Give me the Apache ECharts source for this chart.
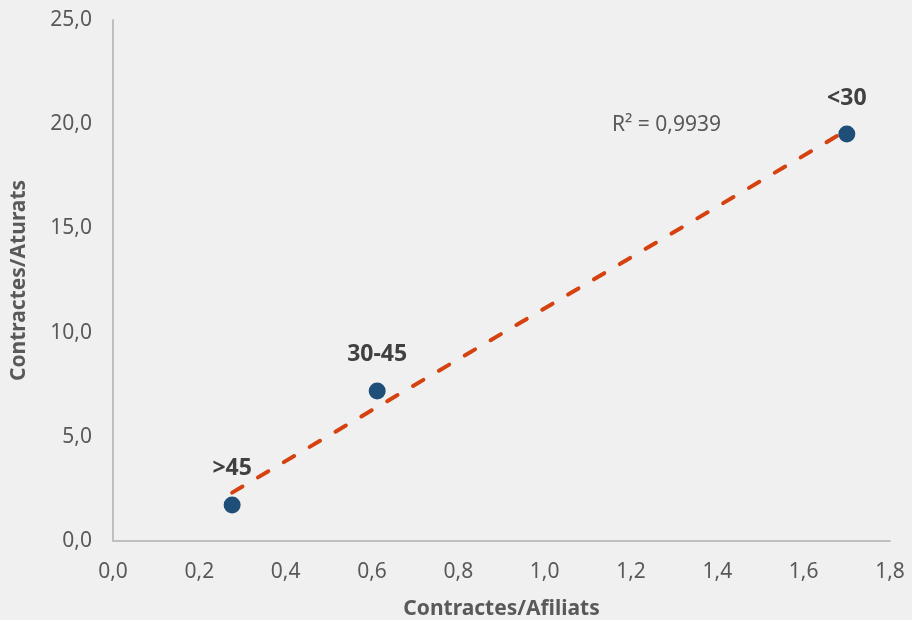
<!DOCTYPE html>
<html>
<head>
<meta charset="utf-8">
<script src="https://cdn.jsdelivr.net/npm/echarts@6/dist/echarts.min.js"></script>
<style>
  html, body { margin: 0; padding: 0; background: #f0f0f0; }
  #chart { width: 912px; height: 620px; }
</style>
</head>
<body>
<div id="chart"></div>
<script>
// grups d'edat
const groups = ['>45', '30-45', '<30'];
const contractesAfiliats = [0.276, 0.612, 1.70];
const contractesAturats = [1.73, 7.2, 19.53];
const r2Text = 'R² = 0,9939';

const xTicks = { min: 0, max: 1.8, interval: 0.2 };
const yTicks = { min: 0, max: 25, interval: 5 };

const fmt = v => v.toFixed(1).replace('.', ',');

// recta de regressió (tendència lineal)
const linearFit = (xs, ys) => {
    const n = xs.length;
    const mx = xs.reduce((a, b) => a + b, 0) / n;
    const my = ys.reduce((a, b) => a + b, 0) / n;
    let sxy = 0, sxx = 0;
    xs.forEach((x, i) => {
        sxy += (x - mx) * (ys[i] - my);
        sxx += (x - mx) * (x - mx);
    });
    const slope = sxy / sxx;
    return { slope, intercept: my - slope * mx };
};

const fit = linearFit(contractesAfiliats, contractesAturats);
const xLo = Math.min(...contractesAfiliats);
const xHi = Math.max(...contractesAfiliats);
const trend = [xLo, xHi].map(x => [x, fit.intercept + fit.slope * x]);

const font = '"Noto Sans", sans-serif';
const chart = echarts.init(document.getElementById('chart'));

chart.setOption({
    backgroundColor: '#f0f0f0',
    animation: false,
    textStyle: { fontFamily: font },
    grid: { left: 113, right: 22, top: 20, bottom: 79, containLabel: false, outerBoundsMode: 'none' },
    xAxis: {
        type: 'value',
        min: xTicks.min, max: xTicks.max, interval: xTicks.interval,
        name: 'Contractes/Afiliats',
        nameLocation: 'middle',
        nameGap: 58,
        nameTextStyle: { fontFamily: font, fontSize: 21, fontWeight: 'bold', color: '#595959' },
        axisLine: { show: true, lineStyle: { color: '#bfbfbf', width: 2 } },
        axisTick: { show: false },
        splitLine: { show: false },
        axisLabel: { formatter: fmt, fontSize: 21, color: '#595959', margin: 21 }
    },
    yAxis: {
        type: 'value',
        min: yTicks.min, max: yTicks.max, interval: yTicks.interval,
        name: 'Contractes/Aturats',
        nameLocation: 'middle',
        nameRotate: 90,
        nameGap: 83,
        nameTextStyle: { fontFamily: font, fontSize: 21, fontWeight: 'bold', color: '#595959' },
        axisLine: { show: true, lineStyle: { color: '#bfbfbf', width: 2 } },
        axisTick: { show: false },
        splitLine: { show: false },
        axisLabel: { formatter: fmt, fontSize: 21, color: '#595959', margin: 21 }
    },
    series: [
        {
            type: 'line',
            data: trend,
            showSymbol: false,
            symbol: 'none',
            z: 2,
            lineStyle: { color: '#d5420f', width: 4, type: [12, 18], cap: 'round' }
        },
        {
            type: 'scatter',
            data: groups.map((g, i) => ({ name: g, value: [contractesAfiliats[i], contractesAturats[i]] })),
            symbolSize: 17,
            z: 3,
            itemStyle: { color: '#1f4e79', opacity: 1 },
            label: {
                show: true,
                position: 'top',
                distance: 16,
                formatter: p => p.name,
                fontFamily: font,
                fontSize: 23,
                fontWeight: 'bold',
                color: '#404040'
            }
        }
    ],
    graphic: [
        {
            type: 'text',
            left: 612,
            top: 115,
            style: { text: r2Text, fontFamily: font, fontSize: 21, fill: '#595959' }
        }
    ]
});
</script>
</body>
</html>
